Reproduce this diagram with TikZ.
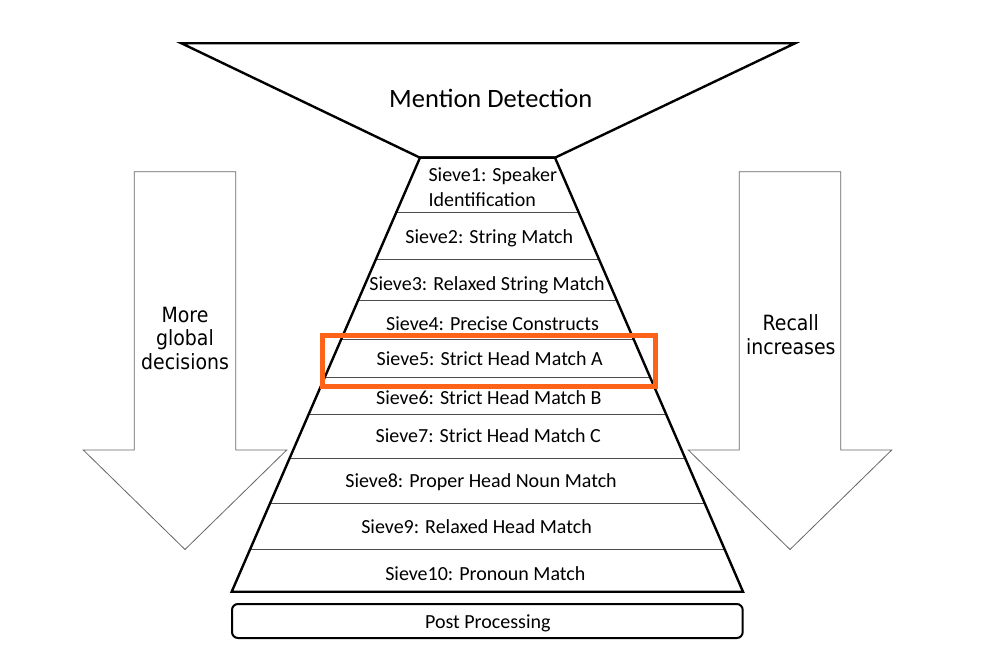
\documentclass[tikz,border=0pt]{standalone}
\usepackage{fontspec}
\setmainfont{Carlito}
\newfontfamily\arrowfont{DejaVu Sans Condensed}
\definecolor{hl}{RGB}{255,99,25}
\begin{document}
\begin{tikzpicture}[x=1pt,y=-1pt,
  outline/.style={draw=black,line width=2.4pt,line join=miter},
  sep/.style={draw=black!70,line width=1pt},
  bigarrow/.style={draw=black!60,line width=0.8pt,fill=white,line join=miter},
  lbl/.style={font=\fontsize{20}{25}\selectfont,inner sep=0pt,anchor=base},
  side/.style={font=\arrowfont\fontsize{21}{23.5}\selectfont,align=center,inner sep=0pt}]
\useasboundingbox (0,0) rectangle (984,660);
\fill[white] (0,0) rectangle (984,660);
% big arrows
\draw[bigarrow] (134.3,171.7) -- (235.7,171.7) -- (235.7,450) -- (286.7,450) -- (185,549.5) -- (83.3,450) -- (134.3,450) -- cycle;
\draw[bigarrow] (739.3,171.7) -- (840.7,171.7) -- (840.7,450) -- (891.7,450) -- (790,549.5) -- (688.3,450) -- (739.3,450) -- cycle;
\node[side] (lt) at (185,338) {More\\global\\decisions};
\node[side] (rt) at (790.8,334.5) {Recall\\increases};
% funnel
\coordinate (FTL) at (181.5,43.3);
\coordinate (FTR) at (795,43.3);
\coordinate (TL) at (420,157.7);
\coordinate (TR) at (555,157.7);
\coordinate (BL) at (231.7,591.7);
\coordinate (BR) at (743,591.7);
\draw[outline] (FTL) -- (FTR) -- (TR) -- (TL) -- cycle;
% separators
\foreach \y in {212.3,260,301,340,377.3,415,458.3,503.3,549.3}{
  \draw[sep] (intersection of TL--BL and {0,\y}--{100,\y}) -- (intersection of TR--BR and {0,\y}--{100,\y});
}
\draw[outline] (TL) -- (TR) -- (BR) -- (BL) -- cycle;
% texts
\node[lbl,font=\fontsize{26.5}{30}\selectfont] (md) at (490.8,107.3) {Mention Detection};
\node[lbl,anchor=base west,align=left] (s1) at (428.3,207) {Sieve1: Speaker\\Identification};
\node[lbl] (s2) at (489.3,243.3) {Sieve2: String Match};
\node[lbl] (s3) at (487,290) {Sieve3: Relaxed String Match};
\node[lbl] (s4) at (492.5,330) {Sieve4: Precise Constructs};
\node[lbl] (s5) at (489.7,365) {Sieve5: Strict Head Match A};
\node[lbl] (s6) at (488.8,404) {Sieve6: Strict Head Match B};
\node[lbl] (s7) at (488.3,442.7) {Sieve7: Strict Head Match C};
\node[lbl] (s8) at (481,487.3) {Sieve8: Proper Head Noun Match};
\node[lbl] (s9) at (476.5,533.3) {Sieve9: Relaxed Head Match};
\node[lbl] (s10) at (485.3,580) {Sieve10: Pronoun Match};
% post processing
\draw[draw=black,line width=2pt,rounded corners=6pt] (232,604) rectangle (742.7,638);
\node[lbl] (pp) at (487.8,628.3) {Post Processing};
% highlight
\draw[draw=hl,line width=5pt] (322.5,335.2) rectangle (655.8,386.8);
\end{tikzpicture}
\end{document}
